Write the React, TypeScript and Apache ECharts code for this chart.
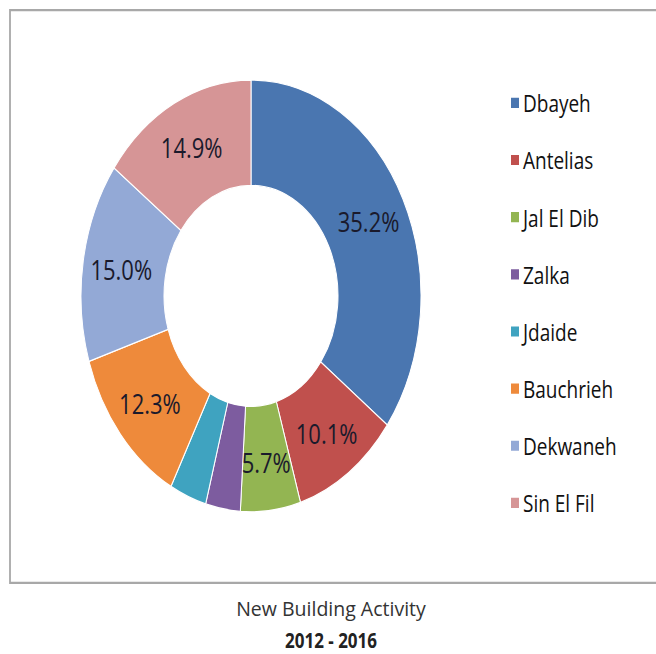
import React, { useEffect, useRef } from "react";
import * as echarts from "echarts";

const categories = ["Dbayeh", "Antelias", "Jal El Dib", "Zalka", "Jdaide", "Bauchrieh", "Dekwaneh", "Sin El Fil"];
const shares = [35.2, 10.1, 5.7, 3.3, 3.5, 12.3, 15.0, 14.9];
const showLabel = [true, true, true, false, false, true, true, true];
const colors = ["#4a76b0", "#c0504d", "#93b552", "#7d5c9f", "#3fa3c0", "#ee8a3b", "#93a9d6", "#d69596"];
const titleLines = ["New Building Activity", "2012 - 2016"];

const SY = 1.27;
const W = 656;
const H = Math.round(654 / SY);

export default function App() {
  const ref = useRef<HTMLDivElement>(null);
  useEffect(() => {
    if (!ref.current) return;
    const chart = echarts.init(ref.current, null, { renderer: "svg" });
    const font = "'Open Sans', 'Noto Sans', sans-serif";
    chart.setOption({
      animation: false,
      backgroundColor: "#ffffff",
      color: colors,
      legend: {
        orient: "vertical",
        left: 504,
        top: 66,
        itemWidth: 10,
        itemHeight: 10,
        itemGap: 25,
        icon: "rect",
        textStyle: { fontFamily: font, fontSize: 19, color: "#111", lineHeight: 20, padding: [0, 0, 0, -2] },
        data: categories,
      },
      graphic: [
        {
          type: "rect",
          shape: { x: 10, y: 8, width: 660, height: 451 },
          style: { fill: "none", stroke: "#a8a8a8", lineWidth: 1.8 },
          z: -1,
        },
        {
          type: "text",
          x: 331,
          y: 479,
          scaleX: 1.22,
          style: { text: titleLines[0], fontFamily: font, fontSize: 16, fill: "#333", textAlign: "center", textVerticalAlign: "middle" },
        },
        {
          type: "text",
          x: 331,
          y: 504,
          style: { text: titleLines[1], fontFamily: font, fontSize: 17, fontWeight: "bold", fill: "#222", textAlign: "center", textVerticalAlign: "middle" },
        },
      ],
      series: [
        {
          type: "pie",
          center: [251, 233],
          radius: [87, 170],
          startAngle: 90,
          clockwise: true,
          avoidLabelOverlap: false,
          itemStyle: { borderColor: "#ffffff", borderWidth: 1 },
          label: {
            show: true,
            position: "inside",
            fontFamily: font,
            fontSize: 22,
            color: "#1a1a2c",
            formatter: (p: any) => p.value.toFixed(1) + "%",
          },
          labelLine: { show: false },
          emphasis: { disabled: true },
          data: categories.map((name, i) => ({
            name,
            value: shares[i],
            label: { show: showLabel[i] },
          })),
        },
      ],
    });
    return () => chart.dispose();
  }, []);
  return (
    <div
      ref={ref}
      style={{
        position: "fixed",
        left: 0,
        top: 0,
        width: W,
        height: H,
        transform: `scaleY(${SY})`,
        transformOrigin: "0 0",
      }}
    />
  );
}
